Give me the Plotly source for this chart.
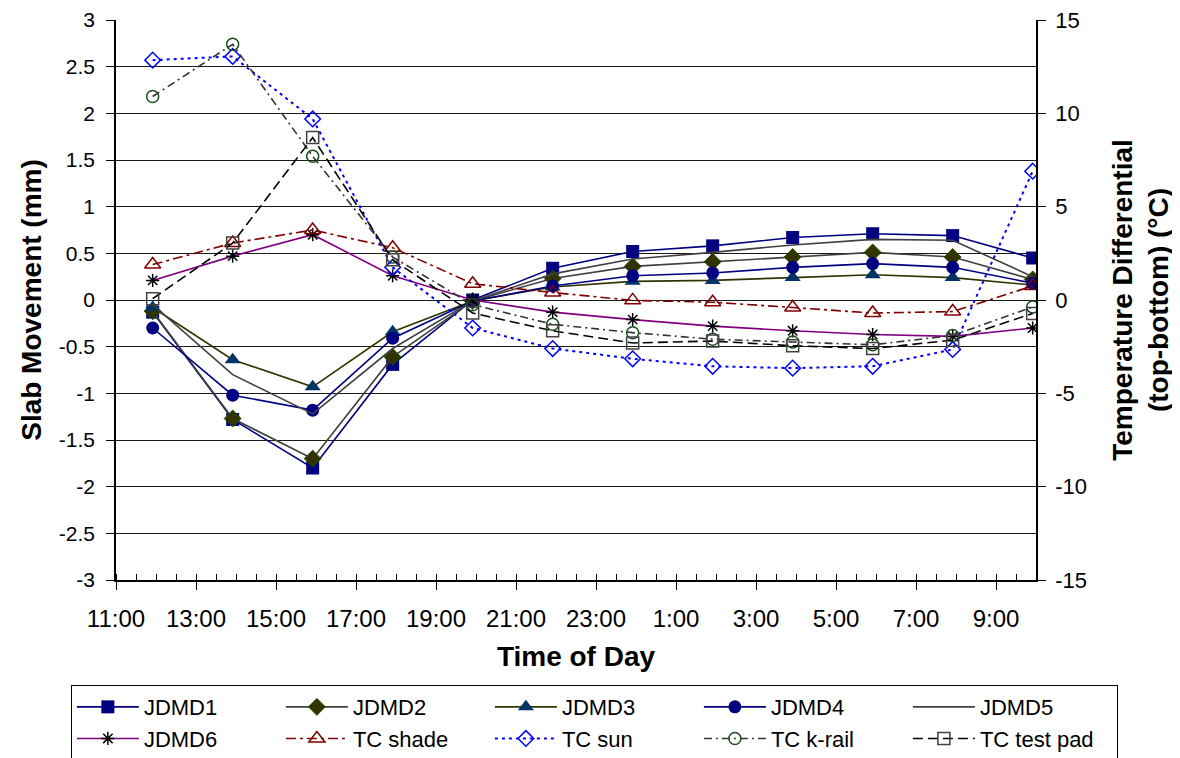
import plotly.graph_objects as go

# ---- data ----
times = ["2000-01-01 11:55", "2000-01-01 13:55", "2000-01-01 15:55", "2000-01-01 17:55",
         "2000-01-01 19:55", "2000-01-01 21:55", "2000-01-01 23:55", "2000-01-02 01:55",
         "2000-01-02 03:55", "2000-01-02 05:55", "2000-01-02 07:55", "2000-01-02 09:55"]

jdmd1 = [-0.13, -1.28, -1.80, -0.69, 0.00, 0.34, 0.52, 0.58, 0.67, 0.71, 0.69, 0.45]
jdmd2 = [-0.12, -1.27, -1.70, -0.61, -0.01, 0.23, 0.36, 0.41, 0.46, 0.51, 0.46, 0.22]
jdmd3 = [-0.08, -0.64, -0.93, -0.34, -0.01, 0.14, 0.20, 0.21, 0.24, 0.27, 0.24, 0.16]
jdmd4 = [-0.30, -1.02, -1.18, -0.41, -0.01, 0.15, 0.26, 0.29, 0.35, 0.39, 0.35, 0.18]
jdmd5 = [-0.05, -0.80, -1.22, -0.52, -0.01, 0.28, 0.44, 0.51, 0.59, 0.65, 0.64, 0.25]
jdmd6 = [0.21, 0.47, 0.70, 0.26, 0.00, -0.13, -0.21, -0.28, -0.33, -0.37, -0.39, -0.30]

tc_shade = [1.90, 3.05, 3.75, 2.80, 0.87, 0.40, -0.02, -0.12, -0.40, -0.70, -0.62, 0.75]
tc_sun = [12.85, 13.05, 9.70, 1.75, -1.50, -2.60, -3.15, -3.55, -3.65, -3.55, -2.65, 6.90]
tc_krail = [10.90, 13.70, 7.70, 2.30, -0.25, -1.30, -1.75, -2.10, -2.25, -2.40, -1.90, -0.37]
tc_testpad = [0.07, 3.05, 8.70, 2.15, -0.70, -1.65, -2.30, -2.20, -2.45, -2.60, -2.15, -0.72]

# tick labels (hyphen minus, as in the original)
left_ticks = [-3, -2.5, -2, -1.5, -1, -0.5, 0, 0.5, 1, 1.5, 2, 2.5, 3]
left_labels = ["-3", "-2.5", "-2", "-1.5", "-1", "-0.5", "0", "0.5", "1", "1.5", "2", "2.5", "3"]
right_ticks = [-15, -10, -5, 0, 5, 10, 15]
right_labels = ["-15", "-10", "-5", "0", "5", "10", "15"]

FONT = "Liberation Sans, Arial, sans-serif"

fig = go.Figure()

def add(name, y, axis, line, marker):
    fig.add_trace(go.Scatter(x=times, y=y, name=name, yaxis=axis,
                             mode="lines+markers" if marker else "lines",
                             line=line, marker=marker or {}))

add("JDMD1", jdmd1, "y", dict(color="#000080", width=1.6),
    dict(symbol="square", size=13, color="#000080", line=dict(width=0)))
add("JDMD2", jdmd2, "y", dict(color="#404040", width=1.6),
    dict(symbol="diamond", size=13, color="#333300", line=dict(width=1, color="#1f4d00")))
add("JDMD3", jdmd3, "y", dict(color="#333300", width=1.6),
    dict(symbol="triangle-up", size=14, color="#003366", line=dict(width=0)))
add("JDMD4", jdmd4, "y", dict(color="#000080", width=1.6),
    dict(symbol="circle", size=13, color="#000080", line=dict(width=0)))
add("JDMD5", jdmd5, "y", dict(color="#404040", width=1.6), None)
add("JDMD6", jdmd6, "y", dict(color="#800080", width=1.6),
    dict(symbol="asterisk-open", size=11, color="#000000", line=dict(width=1.5, color="#000000")))
add("TC shade", tc_shade, "y2", dict(color="#800000", width=1.6, dash="10px,4px,3px,4px"),
    dict(symbol="triangle-up-open", size=14, color="#800000", line=dict(width=1.5)))
add("TC sun", tc_sun, "y2", dict(color="#0000FF", width=2, dash="3px,4px"),
    dict(symbol="diamond-open", size=12, color="#0000FF", line=dict(width=1.5)))
add("TC k-rail", tc_krail, "y2", dict(color="#333333", width=1.6, dash="8px,4px,2px,4px"),
    dict(symbol="circle-open", size=12, color="#1a4d1a", line=dict(width=1.5)))
add("TC test pad", tc_testpad, "y2", dict(color="#000000", width=1.6, dash="10px,5px"),
    dict(symbol="square-open", size=12, color="#404040", line=dict(width=1.5)))

fig.update_layout(
    width=1172, height=750,
    margin=dict(l=107.5, r=143.5, t=12.3, b=178, autoexpand=False),
    paper_bgcolor="white", plot_bgcolor="white",
    font=dict(family=FONT, size=21, color="black"),
    showlegend=True,
    legend=dict(orientation="h", x=1.089, xanchor="right", y=-0.1876, yanchor="top",
                bordercolor="black", borderwidth=1, bgcolor="white",
                font=dict(family=FONT, size=22),
                entrywidth=132, entrywidthmode="pixels", itemwidth=62,
                traceorder="normal"),
    xaxis=dict(
        type="date",
        range=["2000-01-01 11:00", "2000-01-02 10:00"],
        tick0="2000-01-01 11:00", dtick=7200000, tickformat="%-H:%M",
        ticks="outside", ticklen=8, tickcolor="black", tickwidth=1,
        minor=dict(dtick=1800000, ticks="inside", ticklen=6, tickcolor="black", showgrid=False),
        showgrid=False, showline=True, linecolor="black", linewidth=1.5,
        zeroline=False, ticklabelstandoff=8, automargin=False, ticklabeloverflow="allow",
        tickfont=dict(size=24),
        title=dict(text="<b>Time of Day</b>", font=dict(size=28), standoff=16),
    ),
    yaxis=dict(
        range=[-3, 3], tickvals=left_ticks, ticktext=left_labels,
        ticks="outside", ticklen=8, tickcolor="black",
        showgrid=True, gridcolor="#1a1a1a", gridwidth=1,
        showline=True, linecolor="black", linewidth=1.5, zeroline=False,
        tickfont=dict(size=21), ticklabelstandoff=7, automargin=False,
        ticklabeloverflow="allow",
        title=dict(text="<b>Slab Movement (mm)</b>", font=dict(size=28), standoff=9),
    ),
    yaxis2=dict(
        range=[-15, 15], tickvals=right_ticks, ticktext=right_labels,
        overlaying="y", side="right",
        ticks="outside", ticklen=8, tickcolor="black",
        showgrid=False, showline=True, linecolor="black", linewidth=1.5, zeroline=False,
        tickfont=dict(size=22), ticklabelstandoff=5, automargin=False,
        ticklabeloverflow="allow",
        title=dict(text="<b>Temperature Differential<br>(top-bottom) (°C)</b>",
                   font=dict(size=28), standoff=26),
    ),
)

fig.write_html("out.html")
